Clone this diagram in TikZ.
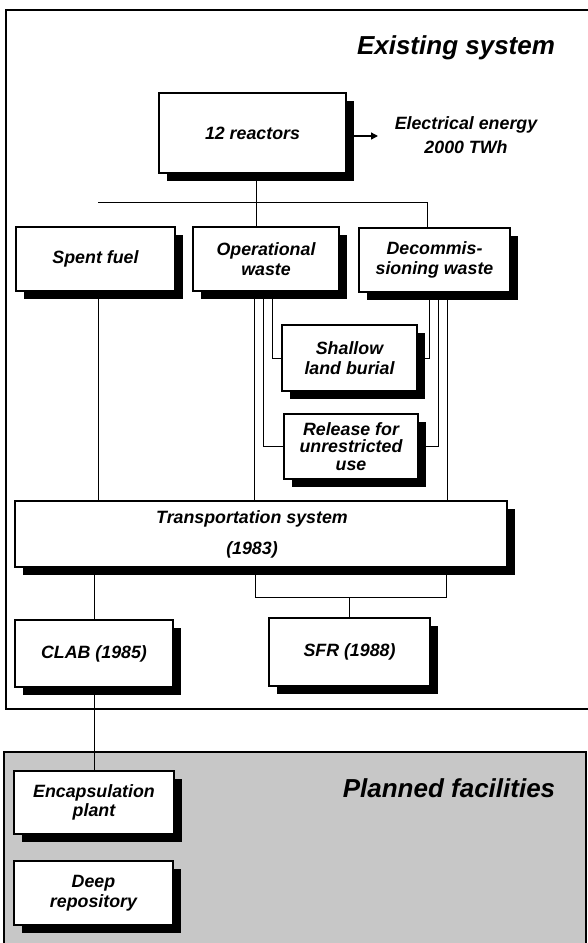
\documentclass[tikz,border=0pt]{standalone}
\usepackage{fontspec}
\setmainfont{Liberation Sans}
\usetikzlibrary{shadows,arrows.meta,backgrounds}
\begin{document}
\begin{tikzpicture}[x=1pt,y=-1pt,
  box/.style={draw=black, line width=1.1pt, fill=white, rectangle, inner sep=0pt, align=center,
     font=\fontsize{17.8}{19.5}\selectfont\bfseries\itshape,
     drop shadow={shadow xshift=7.5pt, shadow yshift=-7.5pt, fill=black, opacity=1}},
  conn/.style={line width=0.7pt, draw=black},
  title/.style={font=\fontsize{26}{30}\selectfont\bfseries\itshape, inner sep=0pt},
  lbl/.style={font=\fontsize{17.8}{24}\selectfont\bfseries\itshape, inner sep=0pt, align=center},
  frame/.style={draw=black, line width=2.2pt}
]
\useasboundingbox (0,0) rectangle (588,943);

% boxes
\node[box, minimum width=187pt, minimum height=80pt] (reactors) at (252.5,133) {12 reactors};
\node[box, minimum width=159pt, minimum height=64pt] (spent) at (95.5,259) {Spent fuel};
\node[box, minimum width=146pt, minimum height=64pt] (opw) at (266,259) {Operational\\waste};
\node[box, minimum width=151pt, minimum height=64pt] (decom) at (434.5,260) {Decommis-\\sioning waste};
\node[box, minimum width=135pt, minimum height=66pt] (shallow) at (349.5,358) {Shallow\\land burial};
\node[box, minimum width=134pt, minimum height=65pt, font=\fontsize{17.8}{17.8}\selectfont\bfseries\itshape] (release) at (351,446.5) {Release for\\unrestricted\\use};
\node[box, minimum width=492pt, minimum height=66pt] (transport) at (261,534) {\hspace*{-18pt}Transportation system\\[11.5pt]\hspace*{-18pt}(1983)};
\node[box, minimum width=158pt, minimum height=67pt] (clab) at (94,653.5) {CLAB (1985)};
\node[box, minimum width=161pt, minimum height=68pt] (sfr) at (349.5,652) {SFR (1988)};
\node[box, minimum width=160pt, minimum height=63pt] (encap) at (94,802.5) {Encapsulation\\plant};
\node[box, minimum width=159pt, minimum height=64pt] (deep) at (93.5,893) {Deep\\repository};

% texts
\node[title] (exist) at (456,48) {Existing system};
\node[title] (planned) at (449,788) {Planned facilities};
\node[lbl] (elec) at (466,135) {Electrical energy\\2000 TWh};

% helper coordinates
\coordinate (xR) at (256,0);
\coordinate (xSF) at (98,0);
\coordinate (xD) at (427,0);
\coordinate (xO1) at (254,0);
\coordinate (xO2) at (263,0);
\coordinate (xO3) at (272,0);
\coordinate (xD1) at (429,0);
\coordinate (xD2) at (438,0);
\coordinate (xD3) at (447,0);
\coordinate (yBus) at (0,202);
\coordinate (yLow) at (0,597);
\coordinate (xL) at (255,0);
\coordinate (xRt) at (446,0);
\coordinate (arrEnd) at (378,136);
\coordinate (arrStart) at (353,136);

\begin{scope}[on background layer]
  % frames
  \draw[frame] (6,10) rectangle (600,709);
  \draw[draw=black, line width=1.3pt, fill=black!22] (4,752) rectangle (586,960);
  % connectors
  \draw[conn] (reactors.south -| xR) -- (opw.north -| xR);
  \draw[conn] (xSF |- yBus) -- (xD |- yBus) -- (decom.north -| xD);
  \draw[conn] (spent.south -| xSF) -- (transport.north -| xSF);
  \draw[conn] (opw.south -| xO1) -- (transport.north -| xO1);
  \draw[conn] (opw.south -| xO2) -- (release.west -| xO2) -- (release.west);
  \draw[conn] (opw.south -| xO3) -- (shallow.west -| xO3) -- (shallow.west);
  \draw[conn] (decom.south -| xD1) -- (shallow.east -| xD1) -- (shallow.east);
  \draw[conn] (decom.south -| xD2) -- (release.east -| xD2) -- (release.east);
  \draw[conn] (decom.south -| xD3) -- (transport.north -| xD3);
  \draw[conn] (transport.south -| clab.north) -- (clab.north);
  \draw[conn] (transport.south -| xL) -- (xL |- yLow) -- (xRt |- yLow) -- (transport.south -| xRt);
  \draw[conn] (sfr.north |- yLow) -- (sfr.north);
  \draw[conn] (clab.south -| encap.north) -- (encap.north);
\end{scope}
\draw[line width=1.4pt, -{Triangle[length=7pt,width=7pt]}] (arrStart) -- (arrEnd);
\end{tikzpicture}
\end{document}
